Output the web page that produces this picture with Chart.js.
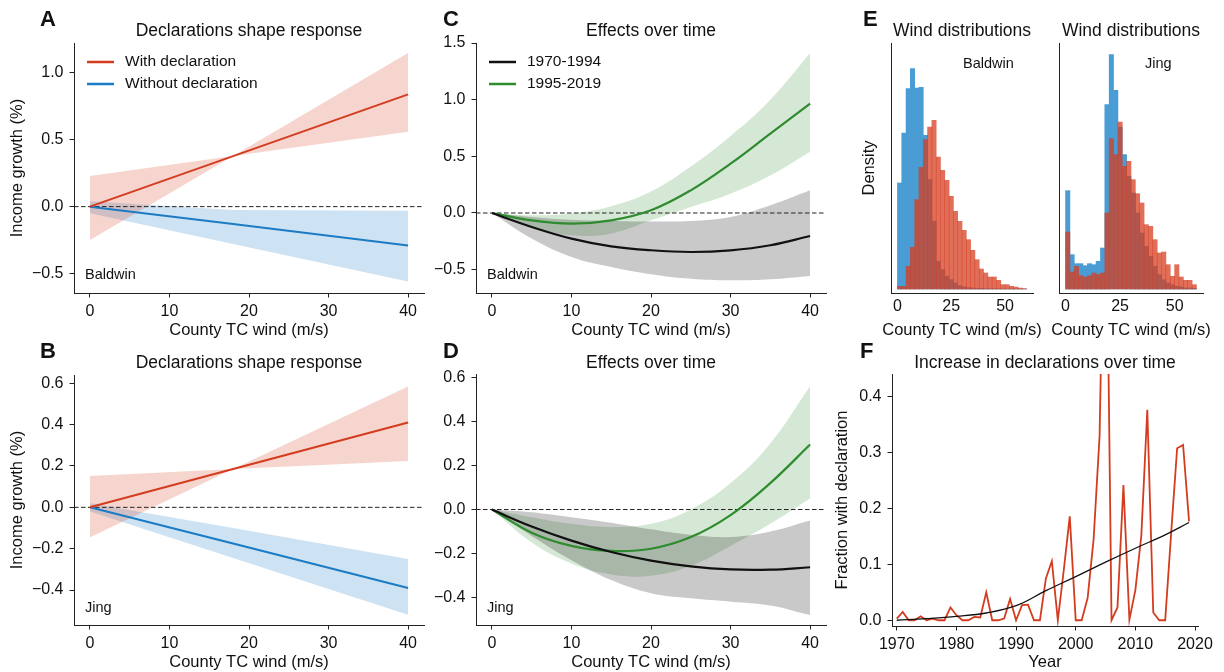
<!DOCTYPE html>
<html>
<head>
<meta charset="utf-8">
<title>Declarations and county income response to TC wind</title>
<script src="https://cdn.jsdelivr.net/npm/chart.js@4.4.1/dist/chart.umd.min.js"></script>
<style>
  html, body { margin: 0; padding: 0; background: #fff; }
  #fig { position: relative; width: 1224px; height: 672px; overflow: hidden; }
  #fig canvas { position: absolute; }
</style>
</head>
<body>
<div id="fig">
  <canvas id="panelA" width="440" height="340" style="left:0;top:0"></canvas>
  <canvas id="panelB" width="440" height="332" style="left:0;top:340px"></canvas>
  <canvas id="panelC" width="440" height="340" style="left:420px;top:0"></canvas>
  <canvas id="panelD" width="440" height="332" style="left:420px;top:340px"></canvas>
  <canvas id="panelE1" width="186" height="340" style="left:860px;top:0"></canvas>
  <canvas id="panelE2" width="178" height="340" style="left:1046px;top:0"></canvas>
  <canvas id="panelF" width="396" height="332" style="left:828px;top:340px"></canvas>
</div>
<script>
// ---------------- data ----------------
const windTicks = [0, 10, 20, 30, 40];
const declNames = ['With declaration', 'Without declaration'];
const periodNames = ['1970-1994', '1995-2019'];

// A: Baldwin, response with / without declaration
const aWind = [0, 18, 40];
const aWith = [0, 0.378, 0.84];
const aWithHi = [0.23, 0.378, 1.15];
const aWithLo = [-0.25, 0.378, 0.56];
const aWithout = [0, -0.13, -0.29];
const aWithoutHi = [0.04, -0.025, -0.03];
const aWithoutLo = [-0.05, -0.28, -0.56];
const aTicks = [-0.5, 0, 0.5, 1.0];

// B: Jing, response with / without declaration
const bWind = [0, 18, 40];
const bWith = [0, 0.185, 0.41];
const bWithHi = [0.152, 0.185, 0.584];
const bWithLo = [-0.145, 0.185, 0.224];
const bWithout = [0, -0.175, -0.39];
const bWithoutHi = [0.02, -0.10, -0.25];
const bWithoutLo = [-0.02, -0.245, -0.52];
const bTicks = [-0.4, -0.2, 0, 0.2, 0.4, 0.6];

// C: Baldwin, effects by period
const cWind = [0, 5, 10, 15, 20, 25, 30, 35, 40];
const cEarly = [0, -0.123, -0.226, -0.294, -0.329, -0.344, -0.33, -0.285, -0.203];
const cEarlyHi = [0, -0.035, -0.06, -0.07, -0.075, -0.07, -0.035, 0.068, 0.2];
const cEarlyLo = [0, -0.226, -0.388, -0.476, -0.54, -0.58, -0.594, -0.585, -0.555];
const cLate = [0, -0.065, -0.094, -0.065, 0.024, 0.2, 0.435, 0.7, 0.965];
const cLateHi = [0, -0.02, -0.005, 0.06, 0.19, 0.41, 0.68, 1.0, 1.41];
const cLateLo = [0, -0.12, -0.197, -0.18, -0.065, 0.053, 0.17, 0.33, 0.54];
const cTicks = [-0.5, 0, 0.5, 1.0, 1.5];

// D: Jing, effects by period
const dWind = [0, 5, 10, 15, 20, 25, 30, 35, 40];
const dEarly = [0, -0.077, -0.141, -0.193, -0.232, -0.258, -0.272, -0.273, -0.262];
const dEarlyHi = [0, -0.012, -0.035, -0.06, -0.09, -0.115, -0.125, -0.1, -0.05];
const dEarlyLo = [0, -0.12, -0.23, -0.32, -0.38, -0.403, -0.418, -0.435, -0.479];
const dLate = [0, -0.105, -0.165, -0.188, -0.178, -0.125, -0.025, 0.12, 0.295];
const dLateHi = [0, -0.035, -0.065, -0.08, -0.065, 0.0, 0.12, 0.3, 0.56];
const dLateLo = [0, -0.15, -0.245, -0.295, -0.3, -0.255, -0.165, -0.065, 0.05];
const dTicks = [-0.4, -0.2, 0, 0.2, 0.4, 0.6];

// E: wind histograms (bin width 2 m/s, relative bar heights)
const binMid = [1, 3, 5, 7, 9, 11, 13, 15, 17, 19, 21, 23, 25, 27, 29,
                31, 33, 35, 37, 39, 41, 43, 45, 47, 49, 51, 53, 55, 57, 59];
const histTicks = [0, 25, 50];
const baldwinWithout = [318, 468, 601, 661, 603, 605, 461, 328, 203, 83, 58, 38, 28, 18, 10,
                        6, 4, 3, 2, 2, 1, 1, 1, 1, 0, 0, 0, 0, 0, 0];
const baldwinWith = [8, 8, 68, 125, 268, 365, 448, 486, 506, 396, 356, 326, 278, 233, 203,
                     176, 148, 116, 88, 60, 48, 36, 36, 26, 13, 13, 8, 6, 3, 1];
const jingWithout = [295, 103, 76, 76, 70, 76, 73, 83, 123, 553, 703, 596, 486, 403, 338,
                     288, 228, 168, 128, 98, 68, 43, 28, 18, 13, 8, 6, 3, 3, 2];
const jingWith = [171, 51, 68, 40, 36, 40, 48, 43, 48, 228, 451, 403, 501, 368, 383,
                  328, 286, 258, 193, 188, 148, 108, 111, 73, 38, 73, 36, 26, 26, 13];

// F: fraction of events with a declaration
const years = [1970, 1971, 1972, 1973, 1974, 1975, 1976, 1977, 1978, 1979,
               1980, 1981, 1982, 1983, 1984, 1985, 1986, 1987, 1988, 1989,
               1990, 1991, 1992, 1993, 1994, 1995, 1996, 1997, 1998, 1999,
               2000, 2001, 2002, 2003, 2004, 2005, 2006, 2007, 2008, 2009,
               2010, 2011, 2012, 2013, 2014, 2015, 2016, 2017, 2018, 2019];
const declFraction = [0.003, 0.015, 0, 0, 0.007, 0, 0.003, 0, 0, 0.023,
                      0.009, 0, 0, 0.006, 0.005, 0.05, 0, 0, 0.003, 0.038,
                      0, 0.027, 0.028, 0, 0, 0.075, 0.106, 0, 0.09, 0.186,
                      0, 0, 0.04, 0.145, 0.33, 0.9, 0, 0.023, 0.242, 0.001,
                      0.054, 0.152, 0.377, 0.014, 0, 0, 0.156, 0.308, 0.314, 0.177];
const trendYears = [1970, 1975, 1980, 1985, 1990, 1995, 2000, 2005, 2010, 2015, 2019];
const trendFraction = [0.0, 0.003, 0.007, 0.013, 0.026, 0.053, 0.078, 0.104, 0.129, 0.153, 0.175];
const yearTicks = [1970, 1980, 1990, 2000, 2010, 2020];
const fracTicks = [0, 0.1, 0.2, 0.3, 0.4];

// ---------------- style ----------------
const FONT = "'Liberation Sans', Arial, Helvetica, sans-serif";
const INK = '#111';
const RED = '#d43c1f';
const BLUE = '#1b7bc4';
const GREEN = '#2e8b2e';
const BLACK = '#111';

Chart.defaults.font.family = FONT;
Chart.defaults.color = INK;

const xy = (xs, ys) => xs.map((x, i) => ({x: x, y: ys[i]}));
const fmt1 = v => (v < 0 ? '\u2212' : '') + Math.abs(v).toFixed(1);
const fmt0 = v => String(v);

function axis(c) {
  return {
    type: 'linear',
    min: c.min,
    max: c.max,
    offset: false,
    afterBuildTicks: s => { s.ticks = c.ticks.map(v => ({value: v})); },
    afterFit: s => {
      if (s.isHorizontal()) s.height = c.size; else s.width = c.size;
      s.paddingLeft = s.paddingRight = s.paddingTop = s.paddingBottom = 0;
    },
    grid: {display: true, drawOnChartArea: false, drawTicks: c.tick !== 0,
           tickLength: c.tick === undefined ? 4.5 : c.tick, color: '#222', lineWidth: 1},
    border: {display: true, color: '#222', width: 1},
    ticks: {display: c.ticks.length > 0, font: {size: 16}, color: INK, padding: c.pad,
            maxRotation: 0, autoSkip: false, callback: c.fmt},
    title: {display: !!c.title, text: c.title || '', font: {size: 16.5}, color: INK,
            padding: {top: c.tpad || 0, bottom: 0}}
  };
}

function baseOptions(top, right, x, y) {
  return {
    responsive: false,
    animation: false,
    events: [],
    layout: {padding: {top: top, right: right, left: 0, bottom: 0}},
    plugins: {
      legend: {display: false},
      tooltip: {enabled: false},
      filler: {drawTime: 'beforeDatasetsDraw', propagate: false}
    },
    elements: {point: {radius: 0}},
    scales: {x: x, y: y}
  };
}

// letters, titles, notes, legend and the dashed zero line
function deco(o) {
  return {
    id: 'deco',
    beforeDatasetsDraw(chart) {
      if (!o.zero) return;
      const {ctx, chartArea: a, scales} = chart;
      const py = scales.y.getPixelForValue(0);
      ctx.save();
      ctx.strokeStyle = '#222';
      ctx.lineWidth = 1;
      ctx.setLineDash([4.5, 2.5]);
      ctx.beginPath();
      ctx.moveTo(a.left, py);
      ctx.lineTo(a.right, py);
      ctx.stroke();
      ctx.restore();
    },
    afterDraw(chart) {
      const {ctx, chartArea: a} = chart;
      const cx = (a.left + a.right) / 2;
      ctx.save();
      ctx.fillStyle = INK;
      ctx.textBaseline = 'middle';
      if (o.letter) {
        ctx.font = 'bold 22px ' + FONT;
        ctx.textAlign = 'left';
        ctx.fillText(o.letter, o.lx, o.ly);
      }
      if (o.title) {
        ctx.font = '17.5px ' + FONT;
        ctx.textAlign = 'center';
        ctx.fillText(o.title, cx, o.ty);
      }
      if (o.xtitle) {
        ctx.font = '16.5px ' + FONT;
        ctx.textAlign = 'center';
        ctx.fillText(o.xtitle, cx, o.xy);
      }
      if (o.note) {
        ctx.font = '14.5px ' + FONT;
        ctx.textAlign = 'left';
        ctx.fillText(o.note, o.nx, o.ny);
      }
      if (o.legend) {
        const L = o.legend;
        L.items.forEach((it, i) => {
          const yy = L.y + i * L.gap;
          ctx.strokeStyle = it[1];
          ctx.lineWidth = 2.5;
          ctx.beginPath();
          ctx.moveTo(L.x, yy);
          ctx.lineTo(L.x + 27, yy);
          ctx.stroke();
          ctx.font = '15.5px ' + FONT;
          ctx.textAlign = 'left';
          ctx.fillStyle = INK;
          ctx.fillText(it[0], L.x + 38, yy);
        });
      }
      ctx.restore();
    }
  };
}

function line(xs, ys, color, width, tension) {
  return {data: xy(xs, ys), borderColor: color, borderWidth: width, pointRadius: 0,
          fill: false, tension: tension};
}

function band(xs, lo, hi, color, tension) {
  return [
    {data: xy(xs, lo), borderColor: 'rgba(0,0,0,0)', borderWidth: 1, pointRadius: 0,
     fill: false, tension: tension},
    {data: xy(xs, hi), borderColor: 'rgba(0,0,0,0)', borderWidth: 1, pointRadius: 0,
     fill: '-1', backgroundColor: color, tension: tension}
  ];
}

function responsePanel(id, p) {
  const el = document.getElementById(id);
  new Chart(el, {
    type: 'line',
    data: {
      datasets: [
        line(p.x, p.s1, p.c1, p.w, p.tension),
        line(p.x, p.s2, p.c2, p.w, p.tension),
        ...band(p.x, p.s1Lo, p.s1Hi, p.f1, p.tension),
        ...band(p.x, p.s2Lo, p.s2Hi, p.f2, p.tension)
      ]
    },
    options: baseOptions(p.top, p.right,
      axis({min: -2, max: 42, ticks: windTicks, size: 47, pad: 4, fmt: fmt0,
            title: 'County TC wind (m/s)'}),
      axis({min: p.ymin, max: p.ymax, ticks: p.yticks, size: p.left, pad: 6, fmt: fmt1,
            title: p.ytitle, tpad: 8})),
    plugins: [deco(p.deco)]
  });
}

// ---------------- panels ----------------
const RED_BAND = 'rgba(214,62,32,0.22)';
const BLUE_BAND = 'rgba(27,123,196,0.22)';
const GREEN_BAND = 'rgba(46,139,46,0.2)';
const GRAY_BAND = 'rgba(0,0,0,0.21)';

responsePanel('panelA', {
  x: aWind, s1: aWith, s1Hi: aWithHi, s1Lo: aWithLo, s2: aWithout, s2Hi: aWithoutHi, s2Lo: aWithoutLo,
  c1: RED, c2: BLUE, f1: RED_BAND, f2: BLUE_BAND, w: 2, tension: 0,
  ymin: -0.646, ymax: 1.224, yticks: aTicks, ytitle: 'Income growth (%)',
  top: 43, right: 16, left: 74,
  deco: {letter: 'A', lx: 40, ly: 20, title: 'Declarations shape response', ty: 31,
         note: 'Baldwin', nx: 85, ny: 275, zero: true,
         legend: {x: 87, y: 62, gap: 22, items: [[declNames[0], RED], [declNames[1], BLUE]]}}
});

responsePanel('panelB', {
  x: bWind, s1: bWith, s1Hi: bWithHi, s1Lo: bWithLo, s2: bWithout, s2Hi: bWithoutHi, s2Lo: bWithoutLo,
  c1: RED, c2: BLUE, f1: RED_BAND, f2: BLUE_BAND, w: 2, tension: 0,
  ymin: -0.569, ymax: 0.64, yticks: bTicks, ytitle: 'Income growth (%)',
  top: 35, right: 16, left: 74,
  deco: {letter: 'B', lx: 40, ly: 12, title: 'Declarations shape response', ty: 23,
         note: 'Jing', nx: 85, ny: 268, zero: true}
});

responsePanel('panelC', {
  x: cWind, s1: cEarly, s1Hi: cEarlyHi, s1Lo: cEarlyLo, s2: cLate, s2Hi: cLateHi, s2Lo: cLateLo,
  c1: BLACK, c2: GREEN, f1: GRAY_BAND, f2: GREEN_BAND, w: 2.2, tension: 0.4,
  ymin: -0.706, ymax: 1.5, yticks: cTicks, ytitle: '',
  top: 43, right: 34, left: 56,
  deco: {letter: 'C', lx: 23, ly: 20, title: 'Effects over time', ty: 31,
         note: 'Baldwin', nx: 67, ny: 275, zero: true,
         legend: {x: 69, y: 62, gap: 22, items: [[periodNames[0], BLACK], [periodNames[1], GREEN]]}}
});

responsePanel('panelD', {
  x: dWind, s1: dEarly, s1Hi: dEarlyHi, s1Lo: dEarlyLo, s2: dLate, s2Hi: dLateHi, s2Lo: dLateLo,
  c1: BLACK, c2: GREEN, f1: GRAY_BAND, f2: GREEN_BAND, w: 2.2, tension: 0.4,
  ymin: -0.524, ymax: 0.615, yticks: dTicks, ytitle: '',
  top: 34, right: 34, left: 56,
  deco: {letter: 'D', lx: 23, ly: 12, title: 'Effects over time', ty: 23,
         note: 'Jing', nx: 67, ny: 268, zero: true}
});

function histPanel(id, without, withDecl, p) {
  const el = document.getElementById(id);
  const bar = (ys, color) => ({data: xy(binMid, ys), backgroundColor: color, borderWidth: 0,
                               grouped: false, barPercentage: 1, categoryPercentage: 1});
  new Chart(el, {
    type: 'bar',
    data: {datasets: [bar(withDecl, 'rgba(214,62,32,0.75)'), bar(without, '#4a9dd4')]},
    options: baseOptions(43, p.right,
      axis({min: -3, max: 63, ticks: histTicks, size: 47, pad: 4, tick: 0, fmt: fmt0}),
      axis({min: -12, max: 738, ticks: [], size: p.left, pad: 0, tick: 0,
            title: p.ytitle, tpad: 0})),
    plugins: [deco(p.deco)]
  });
}

histPanel('panelE1', baldwinWithout, baldwinWith, {
  left: 31, right: 13, ytitle: 'Density',
  deco: {letter: 'E', lx: 3, ly: 20, title: 'Wind distributions', ty: 31,
         xtitle: 'County TC wind (m/s)', xy: 330, note: 'Baldwin', nx: 103, ny: 64}
});

histPanel('panelE2', jingWithout, jingWith, {
  left: 13, right: 21, ytitle: '',
  deco: {title: 'Wind distributions', ty: 31, xtitle: 'County TC wind (m/s)', xy: 330,
         note: 'Jing', nx: 99, ny: 64}
});

new Chart(document.getElementById('panelF'), {
  type: 'line',
  data: {
    datasets: [
      line(trendYears, trendFraction, BLACK, 1.3, 0.4),
      line(years, declFraction, RED, 1.8, 0)
    ]
  },
  options: baseOptions(34, 26,
    axis({min: 1969.2, max: 2020.5, ticks: yearTicks, size: 46, pad: 4, fmt: fmt0, title: 'Year'}),
    axis({min: -0.0103, max: 0.441, ticks: fracTicks, size: 64, pad: 6, fmt: fmt1,
          title: 'Fraction with declaration', tpad: 5})),
  plugins: [deco({letter: 'F', lx: 32, ly: 12, title: 'Increase in declarations over time', ty: 23})]
});
</script>
</body>
</html>
